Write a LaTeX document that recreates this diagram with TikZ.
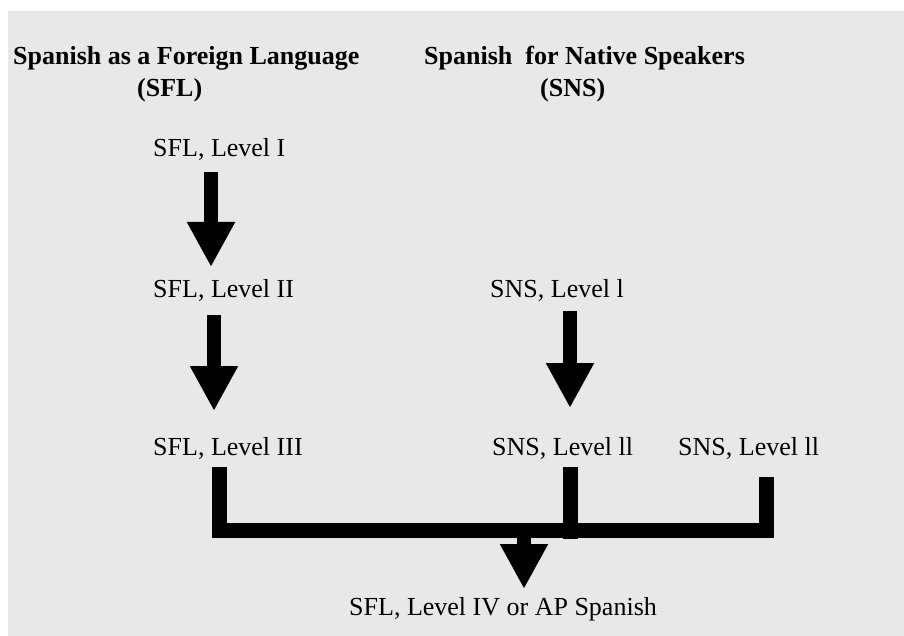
\documentclass[tikz,border=0pt]{standalone}
\usepackage{fontspec}
\setmainfont{Liberation Serif}
\usetikzlibrary{arrows.meta,calc}
\definecolor{bggray}{HTML}{E8E8E8}
\begin{document}
\begin{tikzpicture}[x=1pt,y=-1pt,
  lbl/.style={anchor=base west, inner sep=0pt, font=\fontsize{26}{30}\selectfont},
  hdr/.style={anchor=base west, inner sep=0pt, font=\fontsize{26}{30}\selectfont\bfseries},
  bigarrow/.style={line width=14pt, -{Triangle[width=45pt,length=45pt]}},
  barline/.style={line width=15pt, line cap=butt, line join=miter}]
\useasboundingbox (0,0) rectangle (904,636);
\fill[bggray] (8,11) rectangle (904,636);
% headers
\node[hdr] (h1) at (13,65) {Spanish as a Foreign Language};
\node[hdr] (h1b) at (137,97) {(SFL)};
\node[hdr] (h2) at (424,65) {Spanish\ \ for Native Speakers};
\node[hdr] (h2b) at (540,97) {(SNS)};
% levels
\node[lbl] (s1) at (153,157) {SFL, Level I};
\node[lbl] (s2) at (153,297) {SFL, Level II};
\node[lbl] (s3) at (153,455) {SFL, Level III};
\node[lbl] (n1) at (490,297) {SNS, Level l};
\node[lbl] (n2) at (492,455) {SNS, Level ll};
\node[lbl] (n3) at (678,455) {SNS, Level ll};
\node[lbl] (f) at (349,615) {SFL, Level IV or AP Spanish};
% arrows
\draw[bigarrow] ($(s1.base west)+(58,15)$) -- ($(s2.base west)+(58,-30)$);
\draw[bigarrow] ($(s2.base west)+(61,18)$) -- ($(s3.base west)+(61,-44)$);
\draw[bigarrow] ($(n1.base west)+(80,14)$) -- ($(n2.base west)+(78,-47)$);
% bracket
\draw[barline] ($(s3.base west)+(66.5,12)$) |- ($(n3.base west)+(88,75)$) -- ($(n3.base west)+(88,22)$);
\draw[barline] ($(n2.base west)+(78,12)$) -- ($(n2.base west)+(78,84)$);
\coordinate (join) at ($(f.base west)+(175,-85)$);
\draw[bigarrow] (join) -- ($(f.base west)+(175,-26)$);
\end{tikzpicture}
\end{document}
